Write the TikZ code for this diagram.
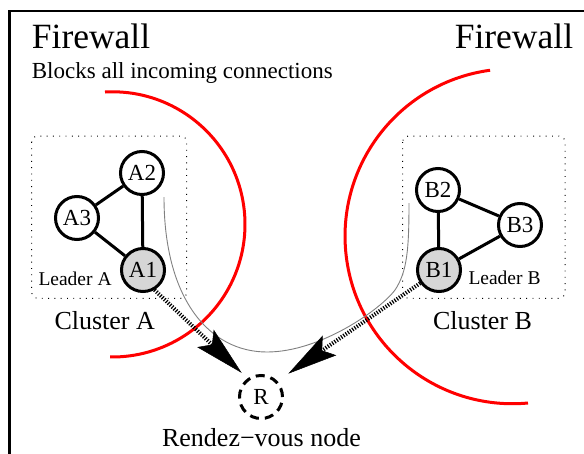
\documentclass[tikz,border=0pt]{standalone}
\usepackage{fontspec}
\setmainfont{Liberation Serif}
\usetikzlibrary{arrows.meta}
\newcommand{\fs}[1]{\fontsize{#1}{#1}\selectfont}
\tikzset{
  member/.style={circle, draw, line width=3pt, minimum size=43pt, inner sep=0pt, font=\fs{23}},
  leader/.style={member, fill=black!16},
  link/.style={line width=3pt},
  clusterbox/.style={line width=1pt, dash pattern=on 0.9pt off 5.4pt, rounded corners=6pt},
  fw/.style={red, line width=3pt},
  hatch/.style={line width=4pt, dash pattern=on 1.2pt off 1.5pt,
    -{Stealth[length=50pt, width=24pt, inset=9pt, line width=0.5pt]}},
  route/.style={black!50, line width=0.9pt},
  label/.style={inner sep=0pt}
}
\begin{document}
\begin{tikzpicture}[x=1pt, y=-1pt]
\useasboundingbox (0,0) rectangle (584,453);
% frame (cropped)
\draw[line width=2.5pt] (9.7,460) -- (9.7,11.2) -- (590,11.2);
% titles
\node[label, anchor=base west, font=\fs{35.5}] (fwA) at (31.7,48.3) {Firewall};
\node[label, anchor=base east, font=\fs{35.5}] (fwB) at (573.3,48.3) {Firewall};
\node[label, anchor=base west, font=\fs{23}] (blk) at (31.7,78.3) {Blocks all incoming connections};
% firewall arcs
\draw[fw] (105.0,92.0) arc[start angle=-93.2, end angle=91, radius=132.6];
\draw[fw] (528.0,403.0) arc[start angle=84.7, end angle=262.3, radius=167.5];
% cluster boxes
\draw[clusterbox] (31.7,136) rectangle (186.7,298.3);
\draw[clusterbox] (402.7,136) rectangle (565,298.3);
% nodes
\node[member] (A2) at (142,173) {A2};
\node[member] (A3) at (77,218) {A3};
\node[leader] (A1) at (143,270) {A1};
\node[member] (B2) at (438,190) {B2};
\node[member] (B3) at (520,225) {B3};
\node[leader] (B1) at (439,270) {B1};
\node[circle, draw, line width=3pt, dash pattern=on 9pt off 6pt, minimum size=43pt, inner sep=0pt, font=\fs{23}] (R) at (261,397) {R};
% links
\draw[link] (A3) -- (A2);
\draw[link] (A2) -- (A1);
\draw[link] (A3) -- (A1);
\draw[link] (B2) -- (B1);
\draw[link] (B2) -- (B3);
\draw[link] (B3) -- (B1);
% labels
\node[label, anchor=base west, font=\fs{19.5}] (ldA) at (38.3,285.3) {Leader A};
\node[label, anchor=base west, font=\fs{19.5}] (ldB) at (468.3,284) {Leader B};
\node[label, anchor=base, font=\fs{26}] (clA) at (104.7,329.5) {Cluster A};
\node[label, anchor=base, font=\fs{26}] (clB) at (482.5,329.5) {Cluster B};
\node[label, anchor=base, font=\fs{26}] (rv) at (261.5,446.5) {Rendez−vous node};
% route through the firewalls
\coordinate (g1) at (164,197);
\coordinate (g2) at (267,352);
\coordinate (g3) at (395,290);
\coordinate (g4) at (409,203);
\draw[route] (g1) .. controls (164,300) and (210,352) .. (g2)
  .. controls (320,352) and (380,310) .. (g3)
  .. controls (407,272) and (409,250) .. (g4);
% connections to R
\draw[hatch, shorten >=8pt] (A1.-60) -- (R.126);
\draw[hatch, shorten >=13pt] (B1.215) -- (R.44);
\end{tikzpicture}
\end{document}
